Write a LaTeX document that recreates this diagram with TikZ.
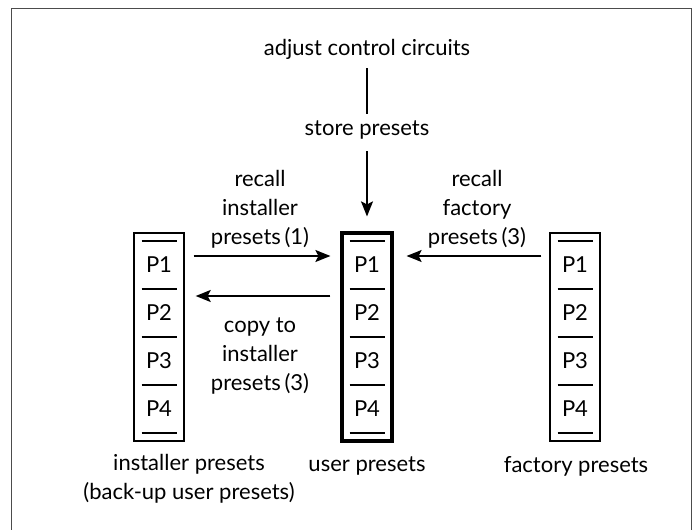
\documentclass[tikz,border=0pt]{standalone}
\usepackage{fontspec}
\setmainfont{Lato}
\usetikzlibrary{arrows.meta}

\begin{document}
\begin{tikzpicture}[x=1pt, y=-1pt,
  lbl/.style={align=center, inner sep=0pt, font=\fontsize{22}{29}\selectfont},
  stack/.style={draw, line width=1.4pt, minimum width=50pt, minimum height=208pt, inner sep=0pt},
  arr/.style={-{Stealth[length=15pt, width=12pt, inset=3pt]}, line width=1.5pt}]

\useasboundingbox (0,0) rectangle (699,530);

% open frame
\draw[black!70, line width=1pt] (11,531) -- (11,8) -- (691,8) -- (691,531);

% the three preset stacks
\node[stack] (inst) at (159,337) {};
\node[stack, line width=3.2pt] (user) at (367,337) {};
\node[stack] (fact) at (575,337) {};
\foreach \cx/\s in {159/inst, 367/user, 575/fact} {
  \foreach \k in {0,...,4}
    \draw[line width=1.4pt] (\cx-17.5,241+48*\k) -- (\cx+17.5,241+48*\k);
  \foreach \k in {1,...,4}
    \node[lbl] (\s-p\k) at (\cx,217+48*\k) {P\k};
}

% texts
\node[lbl] (adjust) at (367,49) {adjust control circuits};
\node[lbl] (store)  at (367,130) {store presets};
\node[lbl] (recinst) at (260,209) {recall\\installer\\presets\,(1)};
\node[lbl] (recfact) at (477,209) {recall\\factory\\presets\,(3)};
\node[lbl] (copy)    at (260,356) {copy to\\installer\\presets\,(3)};
\node[lbl] (instname) at (189,479) {installer presets\\(back-up user presets)};
\node[lbl] (username) at (367,466) {user presets};
\node[lbl] (factname) at (576,466) {factory presets};

% connectors
\draw[line width=1.5pt, shorten <=9pt, shorten >=7pt] (adjust) -- (store);
\draw[arr, shorten <=12pt, shorten >=15pt] (store) -- (user);
\draw[arr, shorten <=9pt, shorten >=10pt] (inst.east |- 0,256) -- (user.west |- 0,256);
\draw[arr, shorten <=10pt, shorten >=11pt] (user.west |- 0,296) -- (inst.east |- 0,296);
\draw[arr, shorten <=8pt, shorten >=13pt] (fact.west |- 0,256) -- (user.east |- 0,256);

\end{tikzpicture}
\end{document}
